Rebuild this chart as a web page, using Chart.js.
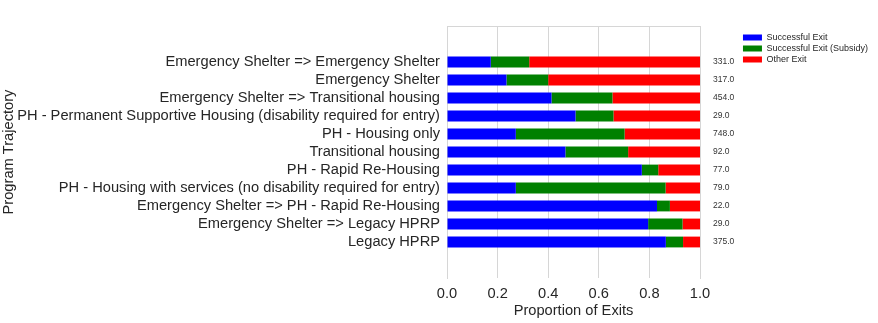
<!DOCTYPE html>
<html>
<head>
<meta charset="utf-8">
<script src="https://cdn.jsdelivr.net/npm/chart.js@4/dist/chart.umd.min.js"></script>
<style>
  html, body { margin: 0; padding: 0; background: #ffffff; }
  canvas { display: block; }
</style>
</head>
<body>
<canvas id="c" width="878" height="323"></canvas>
<script>
const categories = [
  'Emergency Shelter => Emergency Shelter',
  'Emergency Shelter',
  'Emergency Shelter => Transitional housing',
  'PH - Permanent Supportive Housing (disability required for entry)',
  'PH - Housing only',
  'Transitional housing',
  'PH - Rapid Re-Housing',
  'PH - Housing with services (no disability required for entry)',
  'Emergency Shelter => PH - Rapid Re-Housing',
  'Emergency Shelter => Legacy HPRP',
  'Legacy HPRP'
];
const exitCounts = [331, 317, 454, 29, 748, 92, 77, 79, 22, 29, 375];
const successfulExit = [0.173, 0.235, 0.413, 0.508, 0.272, 0.468, 0.770, 0.272, 0.830, 0.795, 0.865];
const successfulSubsidy = [0.152, 0.165, 0.241, 0.150, 0.430, 0.248, 0.065, 0.592, 0.051, 0.136, 0.068];
const otherExit = [0.675, 0.600, 0.346, 0.342, 0.298, 0.284, 0.165, 0.136, 0.119, 0.069, 0.067];
const xTicks = [0.0, 0.2, 0.4, 0.6, 0.8, 1.0];

const FONT = "'Liberation Sans', Arial, Helvetica, sans-serif";
const TEXT = '#262626';
const GRID = '#d6d6d6';

const toPoints = arr => arr.map((v, i) => ({ x: v, y: i }));
const rowTicks = scale => { scale.ticks = categories.map((_, i) => ({ value: i })); };

new Chart(document.getElementById('c'), {
  type: 'bar',
  data: {
    datasets: [
      { label: 'Successful Exit', data: toPoints(successfulExit), backgroundColor: '#0000ff', borderWidth: 0 },
      { label: 'Successful Exit (Subsidy)', data: toPoints(successfulSubsidy), backgroundColor: '#008000', borderWidth: 0 },
      { label: 'Other Exit', data: toPoints(otherExit), backgroundColor: '#ff0000', borderWidth: 0 }
    ]
  },
  options: {
    indexAxis: 'y',
    responsive: false,
    animation: false,
    devicePixelRatio: 1,
    layout: { padding: { top: 26, left: 0, right: 0, bottom: 0 } },
    datasets: { bar: { barPercentage: 0.6, categoryPercentage: 1.0 } },
    scales: {
      x: {
        type: 'linear', stacked: true, min: 0, max: 1, position: 'bottom',
        afterBuildTicks: s => { s.ticks = xTicks.map(v => ({ value: v })); },
        afterFit: s => { s.height = 45; },
        grid: { display: true, color: GRID, lineWidth: 1, drawTicks: false, tickLength: 0 },
        border: { display: false },
        ticks: { padding: 7, color: TEXT, font: { family: FONT, size: 14.67 }, callback: v => Number(v).toFixed(1), maxRotation: 0 },
        title: { display: true, text: 'Proportion of Exits', color: TEXT, font: { family: FONT, size: 14.67, lineHeight: 1.2 }, padding: { top: 0, bottom: 3 } }
      },
      xTop: {
        type: 'linear', min: 0, max: 1, position: 'top', display: true,
        afterFit: s => { s.height = 0; },
        grid: { display: false, drawTicks: false },
        border: { display: true, color: GRID, width: 1 },
        ticks: { display: false }
      },
      y: {
        type: 'linear', stacked: true, min: -2, max: 12, reverse: true, position: 'left', offset: false,
        afterBuildTicks: rowTicks,
        afterFit: s => { s.width = 447; },
        grid: { display: false, drawTicks: false, offset: false },
        border: { display: true, color: GRID, width: 1 },
        ticks: { autoSkip: false, padding: 7, color: TEXT, font: { family: FONT, size: 14.67 }, callback: v => categories[v] },
        title: { display: true, text: 'Program Trajectory', color: TEXT, font: { family: FONT, size: 14.67, lineHeight: 1.2 }, padding: { top: 0, bottom: 0 } }
      },
      yRight: {
        type: 'linear', min: -2, max: 12, reverse: true, position: 'right', display: true, offset: false,
        afterBuildTicks: rowTicks,
        afterFit: s => { s.width = (s.chart.width - 700) - (s.chart.legend ? s.chart.legend.width : 138); },
        grid: { display: false, drawTicks: false, offset: false },
        border: { display: true, color: GRID, width: 1 },
        ticks: { autoSkip: false, padding: 13, color: '#333333', font: { family: FONT, size: 8.5 }, callback: v => exitCounts[v].toFixed(1) }
      }
    },
    plugins: {
      legend: {
        display: true, position: 'right', align: 'start',
        title: { display: true, text: '', font: { size: 5, lineHeight: 1 }, padding: 0 },
        labels: { boxWidth: 19, boxHeight: 6, padding: 2, color: '#262626', font: { family: FONT, size: 9 } }
      },
      tooltip: { enabled: false }
    }
  }
});
</script>
</body>
</html>
